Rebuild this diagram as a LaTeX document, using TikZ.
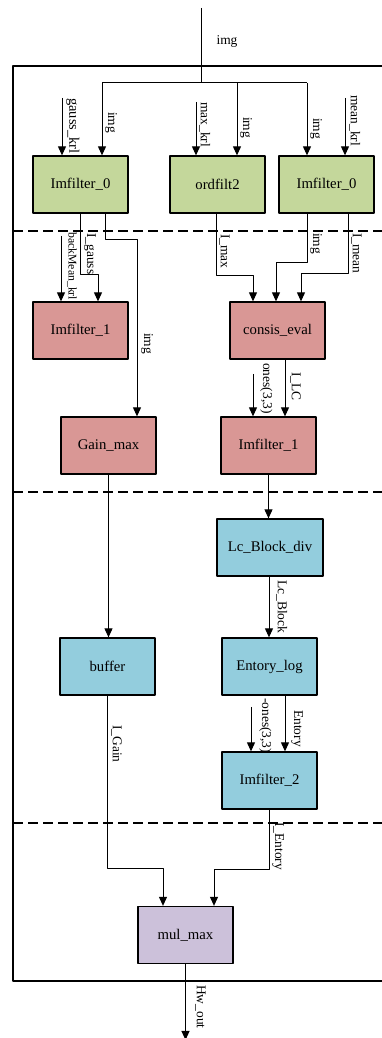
\documentclass[tikz,border=0pt]{standalone}
\usepackage{fontspec}
\setmainfont{Liberation Serif}
\usetikzlibrary{arrows.meta}
\definecolor{stagegreen}{HTML}{C4D79B}
\definecolor{stagered}{HTML}{D99795}
\definecolor{stageblue}{HTML}{93CDDD}
\definecolor{stagepurple}{HTML}{CCC1DA}
\tikzset{
  blk/.style={draw,line width=1.3bp,minimum width=95bp,minimum height=57bp,inner sep=0pt,font=\fontsize{14.8}{16}\selectfont},
  lbl/.style={rotate=-90,anchor=south west,inner sep=0pt,font=\fontsize{13.5}{15}\selectfont},
  wire/.style={black,line width=1bp},
}
\begin{document}
\begin{tikzpicture}[>={Triangle[length=9bp,width=8bp]},line join=bevel,]
\useasboundingbox (0bp,0bp) rectangle (382bp,1038bp);
\clip (0bp,0bp) rectangle (382bp,1038bp);
%%
\draw [line width=2bp] (13bp,972bp) rectangle (400bp,57bp);
\draw [line width=2bp,dash pattern=on 10bp off 5bp] (13bp,807bp) -- (400bp,807bp);
\draw [line width=2bp,dash pattern=on 10bp off 5bp] (13bp,546bp) -- (400bp,546bp);
\draw [line width=2bp,dash pattern=on 10bp off 5bp] (13bp,215bp) -- (400bp,215bp);
%
\node (imf0_l) at (80.5bp,853.5bp) [blk,fill=stagegreen] {Imfilter\_0};
  \node (ordfilt) at (217.5bp,853.5bp) [blk,fill=stagegreen] {ordfilt2};
  \node (imf0_r) at (326.5bp,853.5bp) [blk,fill=stagegreen] {Imfilter\_0};
\node (imf1_l) at (80.5bp,707.5bp) [blk,fill=stagered] {Imfilter\_1};
  \node (consis) at (277.5bp,707.5bp) [blk,fill=stagered] {consis\_eval};
  \node (gainmax) at (108.5bp,592.5bp) [blk,fill=stagered] {Gain\_max};
  \node (imf1_r) at (268.5bp,592.5bp) [blk,fill=stagered] {Imfilter\_1};
\node (lcdiv) at (270bp,490.5bp) [blk,fill=stageblue,minimum width=106bp] {Lc\_Block\_div};
  \node (buffer) at (107.5bp,371.5bp) [blk,fill=stageblue] {buffer};
  \node (entlog) at (269.5bp,371.5bp) [blk,fill=stageblue] {Entory\_log};
  \node (imf2) at (269.5bp,257.5bp) [blk,fill=stageblue] {Imfilter\_2};
\node (mulmax) at (185.5bp,103bp) [blk,fill=stagepurple] {mul\_max};
%
\coordinate (img_in) at (201bp,1030bp);
  \coordinate (bus) at (201bp,955bp);
  \coordinate (bus_l) at (102bp,955bp);
  \coordinate (bus_m) at (237bp,955bp);
  \coordinate (bus_r) at (307bp,955bp);
  \coordinate (gauss_in) at (62bp,940bp);
  \coordinate (max_in) at (196bp,936bp);
  \coordinate (mean_in) at (345bp,940bp);
  \coordinate (back_in) at (61bp,802bp);
  \coordinate (ones_in) at (253bp,664bp);
  \coordinate (nones_in) at (251bp,331bp);
  \coordinate (hw_end) at (185.5bp,-2bp);
%
\draw [wire] (img_in) -- (bus);
  \draw [wire] (bus_l) -- (bus_r);
  \draw [wire,->] (bus_l) -- (bus_l |- imf0_l.north);
  \draw [wire,->] (bus_m) -- (bus_m |- ordfilt.north);
  \draw [wire,->] (bus_r) -- (bus_r |- imf0_r.north);
  \draw [wire,->] (gauss_in) -- (gauss_in |- imf0_l.north);
  \draw [wire,->] (max_in) -- (max_in |- ordfilt.north);
  \draw [wire,->] (mean_in) -- (mean_in |- imf0_r.north);
%
\coordinate (gauss_bend) at (98bp,763bp);
  \coordinate (img_bend) at (137bp,798bp);
  \coordinate (max_bend) at (253bp,762bp);
  \coordinate (imgr_bend) at (276bp,775bp);
  \coordinate (mean_bend) at (301bp,764bp);
  \draw [wire,->] (imf0_l.south) |- (gauss_bend) -- (gauss_bend |- imf1_l.north);
  \draw [wire,->] (back_in) -- (back_in |- imf1_l.north);
  \draw [wire,->] ([xshift=24.5bp]imf0_l.south) |- (img_bend) -- (img_bend |- gainmax.north);
  \draw [wire,->] ([xshift=-1.5bp]ordfilt.south) |- (max_bend) -- (max_bend |- consis.north);
  \draw [wire,->] ([xshift=-19.5bp]imf0_r.south) |- (imgr_bend) -- (imgr_bend |- consis.north);
  \draw [wire,->] ([xshift=21.5bp]imf0_r.south) |- (mean_bend) -- (mean_bend |- consis.north);
  \draw [wire,->] ([xshift=7.5bp]consis.south) -- ([xshift=16.5bp]imf1_r.north);
  \draw [wire,->] (ones_in) -- (ones_in |- imf1_r.north);
%
\draw [wire,->] (gainmax.south) -- (gainmax.south |- buffer.north);
  \draw [wire,->] (imf1_r.south) -- (imf1_r.south |- lcdiv.north);
  \draw [wire,->] ([xshift=-1bp]lcdiv.south) -- ([xshift=-1bp]lcdiv.south |- entlog.north);
  \draw [wire,->] (nones_in) -- (nones_in |- imf2.north);
  \draw [wire,->] ([xshift=15.5bp]entlog.south) -- ([xshift=15.5bp]imf2.north);
%
\coordinate (gain_bend) at (163bp,169bp);
  \coordinate (ent_bend) at (214bp,168bp);
  \draw [wire,->] (buffer.south) |- (gain_bend) -- (gain_bend |- mulmax.north);
  \draw [wire,->] (imf2.south) |- (ent_bend) -- (ent_bend |- mulmax.north);
  \draw [wire,->] (mulmax.south) -- (hw_end);
%
\node (lbl_img) at (227bp,996bp) [inner sep=0pt,font=\fontsize{13.5}{15}\selectfont] {img};
  \node (lbl_gauss) at (66bp,940bp) [lbl,font=\fontsize{14.5}{16}\selectfont] {gauss\_krl};
  \node (lbl_img1) at (105bp,926bp) [lbl] {img};
  \node (lbl_max) at (199bp,936bp) [lbl] {max\_krl};
  \node (lbl_img2) at (240bp,921bp) [lbl] {img};
  \node (lbl_img3) at (310bp,920bp) [lbl] {img};
  \node (lbl_mean) at (349bp,943bp) [lbl] {mean\_krl};
  \node (lbl_back) at (67bp,806bp) [lbl,font=\fontsize{11.8}{13}\selectfont] {backMean\_krl};
  \node (lbl_igauss) at (84bp,805bp) [lbl] {I\_gauss};
  \node (lbl_img4) at (141bp,705bp) [lbl] {img};
  \node (lbl_imax) at (219bp,804bp) [lbl] {I\_max};
  \node (lbl_img5) at (310bp,805bp) [lbl] {img};
  \node (lbl_imean) at (351bp,805bp) [lbl] {I\_mean};
  \node (lbl_ones) at (260bp,675bp) [lbl] {ones(3,3)};
  \node (lbl_ilc) at (290bp,666bp) [lbl] {I\_LC};
  \node (lbl_lcb) at (276bp,458bp) [lbl] {Lc\_Block};
  \node (lbl_nones) at (259bp,340bp) [lbl] {-ones(3,3)};
  \node (lbl_ent) at (291bp,328bp) [lbl] {Entory};
  \node (lbl_igain) at (111bp,313bp) [lbl] {I\_Gain};
  \node (lbl_ient) at (272bp,216bp) [lbl] {I\_Entory};
  \node (lbl_hw) at (195bp,53bp) [lbl] {Hw\_out};
%
\end{tikzpicture}
\end{document}
